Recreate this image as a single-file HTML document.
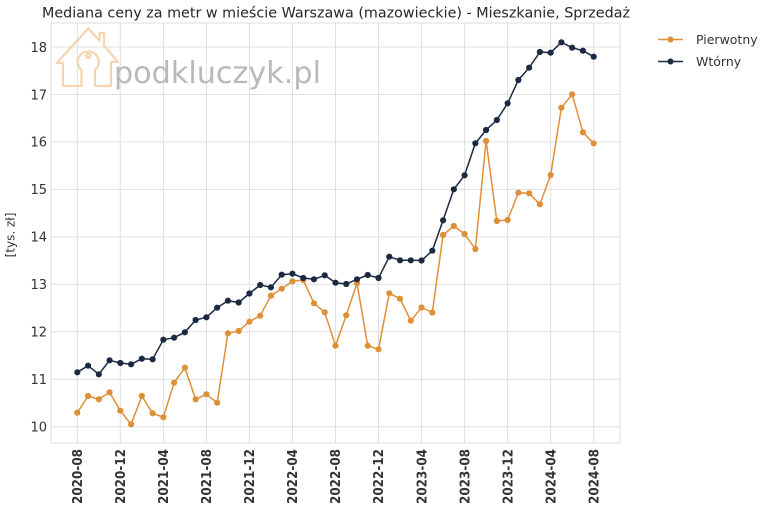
<!DOCTYPE html>
<html><head><meta charset="utf-8"><style>
html,body{margin:0;padding:0;background:#fff;}
svg{display:block;}
text{font-family:"DejaVu Sans","Liberation Sans",sans-serif;}
</style></head><body>
<svg width="768" height="511" viewBox="0 0 768 511" xmlns="http://www.w3.org/2000/svg">
<defs>
<marker id="mo" markerWidth="8" markerHeight="8" refX="4" refY="4" markerUnits="userSpaceOnUse"><circle cx="4" cy="4" r="3.1" fill="#de9036"/></marker>
<marker id="mn" markerWidth="8" markerHeight="8" refX="4" refY="4" markerUnits="userSpaceOnUse"><circle cx="4" cy="4" r="3.1" fill="#1b2a41"/></marker>
</defs>
<rect width="768" height="511" fill="#fff"/>
<!-- title -->
<text x="336" y="17.5" font-size="14" fill="#262626" text-anchor="middle" textLength="588" lengthAdjust="spacingAndGlyphs">Mediana ceny za metr w mieście Warszawa (mazowieckie) - Mieszkanie, Sprzedaż</text>
<!-- grid -->
<g stroke="#e0e0e0" stroke-width="1">
<line x1="51" x2="620" y1="426.7" y2="426.7"/>
<line x1="51" x2="620" y1="379.2" y2="379.2"/>
<line x1="51" x2="620" y1="331.8" y2="331.8"/>
<line x1="51" x2="620" y1="284.3" y2="284.3"/>
<line x1="51" x2="620" y1="236.9" y2="236.9"/>
<line x1="51" x2="620" y1="189.4" y2="189.4"/>
<line x1="51" x2="620" y1="141.9" y2="141.9"/>
<line x1="51" x2="620" y1="94.5" y2="94.5"/>
<line x1="51" x2="620" y1="47.0" y2="47.0"/>
<line y1="23" y2="443" x1="77.3" x2="77.3"/>
<line y1="23" y2="443" x1="120.3" x2="120.3"/>
<line y1="23" y2="443" x1="163.4" x2="163.4"/>
<line y1="23" y2="443" x1="206.4" x2="206.4"/>
<line y1="23" y2="443" x1="249.4" x2="249.4"/>
<line y1="23" y2="443" x1="292.5" x2="292.5"/>
<line y1="23" y2="443" x1="335.5" x2="335.5"/>
<line y1="23" y2="443" x1="378.5" x2="378.5"/>
<line y1="23" y2="443" x1="421.6" x2="421.6"/>
<line y1="23" y2="443" x1="464.6" x2="464.6"/>
<line y1="23" y2="443" x1="507.6" x2="507.6"/>
<line y1="23" y2="443" x1="550.7" x2="550.7"/>
<line y1="23" y2="443" x1="593.7" x2="593.7"/>
</g>
<rect x="51" y="23" width="569" height="420" fill="none" stroke="#dcdcdc" stroke-width="1"/>
<!-- watermark -->
<g fill="none" stroke="#f4d3ac" stroke-width="2.2" stroke-linejoin="round" stroke-linecap="round" opacity="0.95">
<path d="M56.7,63 L88.3,28.5 L99.5,40.5 L99.5,33 L104,33 L104,45.5 L118,62 L111,62 L111,86 L95,86 L95,70 A10.5,10.5 0 1 0 81.5,70 L81.5,86 L63,86 L63,63 Z"/>
<circle cx="88.3" cy="55.8" r="2.2"/>
</g>
<text x="114" y="83" font-size="30" fill="#b7babd" textLength="207" lengthAdjust="spacingAndGlyphs">podkluczyk.pl</text>
<!-- y tick labels -->
<g font-size="13" fill="#333" text-anchor="end">
<text x="47" y="431.5">10</text>
<text x="47" y="384">11</text>
<text x="47" y="336.6">12</text>
<text x="47" y="289.1">13</text>
<text x="47" y="241.7">14</text>
<text x="47" y="194.2">15</text>
<text x="47" y="146.7">16</text>
<text x="47" y="99.3">17</text>
<text x="47" y="51.8">18</text>
</g>
<text transform="translate(14.5,235) rotate(-90)" font-size="12" fill="#333" text-anchor="middle">[tys. zł]</text>
<!-- x tick labels -->
<g font-size="13" font-weight="bold" fill="#333" text-anchor="end">
<text transform="translate(82,449) rotate(-90)" textLength="55" lengthAdjust="spacingAndGlyphs">2020-08</text>
<text transform="translate(125,449) rotate(-90)" textLength="55" lengthAdjust="spacingAndGlyphs">2020-12</text>
<text transform="translate(168.1,449) rotate(-90)" textLength="55" lengthAdjust="spacingAndGlyphs">2021-04</text>
<text transform="translate(211.1,449) rotate(-90)" textLength="55" lengthAdjust="spacingAndGlyphs">2021-08</text>
<text transform="translate(254.1,449) rotate(-90)" textLength="55" lengthAdjust="spacingAndGlyphs">2021-12</text>
<text transform="translate(297.2,449) rotate(-90)" textLength="55" lengthAdjust="spacingAndGlyphs">2022-04</text>
<text transform="translate(340.2,449) rotate(-90)" textLength="55" lengthAdjust="spacingAndGlyphs">2022-08</text>
<text transform="translate(383.2,449) rotate(-90)" textLength="55" lengthAdjust="spacingAndGlyphs">2022-12</text>
<text transform="translate(426.3,449) rotate(-90)" textLength="55" lengthAdjust="spacingAndGlyphs">2023-04</text>
<text transform="translate(469.3,449) rotate(-90)" textLength="55" lengthAdjust="spacingAndGlyphs">2023-08</text>
<text transform="translate(512.3,449) rotate(-90)" textLength="55" lengthAdjust="spacingAndGlyphs">2023-12</text>
<text transform="translate(555.4,449) rotate(-90)" textLength="55" lengthAdjust="spacingAndGlyphs">2024-04</text>
<text transform="translate(598.4,449) rotate(-90)" textLength="55" lengthAdjust="spacingAndGlyphs">2024-08</text>
</g>
<!-- Pierwotny -->
<polyline fill="none" stroke="#de9036" stroke-width="1.5" stroke-linejoin="round" marker-start="url(#mo)" marker-mid="url(#mo)" marker-end="url(#mo)" points="77.3,412.7 88.06,396 98.82,399.3 109.57,392.3 120.33,410.7 131.09,424.3 141.85,396 152.61,413.3 163.36,417.3 174.12,382.7 184.88,367.7 195.64,399.3 206.4,394.3 217.15,402.7 227.91,333.3 238.67,331 249.43,321.7 260.19,315.7 270.94,295.7 281.7,288.7 292.46,281.3 303.22,280 313.98,303.3 324.73,312.3 335.49,345.7 346.25,315.3 357.01,283.3 367.77,345.7 378.52,349.3 389.28,293.3 400.04,298.7 410.8,320.7 421.56,307.5 432.31,312.5 443.07,235 453.83,226 464.59,234 475.35,249 486.1,141 496.86,221 507.62,220 518.38,192.7 529.14,193.3 539.89,204.3 550.65,175 561.41,107.7 572.17,94.3 582.93,132.3 593.68,143.3"/>
<!-- Wtorny -->
<polyline fill="none" stroke="#1b2a41" stroke-width="1.5" stroke-linejoin="round" marker-start="url(#mn)" marker-mid="url(#mn)" marker-end="url(#mn)" points="77.3,372.3 88.06,365.7 98.82,374.3 109.57,360.3 120.33,363 131.09,364.3 141.85,358.7 152.61,359.3 163.36,339.7 174.12,337.7 184.88,332.3 195.64,320 206.4,317.3 217.15,307.7 227.91,300.7 238.67,302.5 249.43,293.5 260.19,285 270.94,287.3 281.7,274.7 292.46,273.7 303.22,278 313.98,279.3 324.73,275.3 335.49,282.7 346.25,284 357.01,279.3 367.77,275 378.52,278 389.28,256.7 400.04,260.3 410.8,260.3 421.56,260.5 432.31,250.7 443.07,220.3 453.83,189.3 464.59,175.3 475.35,143.3 486.1,130 496.86,120 507.62,103.3 518.38,80 529.14,67.7 539.89,52 550.65,52.7 561.41,42.3 572.17,47.7 582.93,50.7 593.68,56.7"/>
<!-- legend -->
<line x1="658" x2="683" y1="39.5" y2="39.5" stroke="#de9036" stroke-width="1.5"/>
<circle cx="670.5" cy="39.5" r="3" fill="#de9036"/>
<text x="696" y="44" font-size="12.5" fill="#333">Pierwotny</text>
<line x1="658" x2="683" y1="61.5" y2="61.5" stroke="#1b2a41" stroke-width="1.5"/>
<circle cx="670.5" cy="61.5" r="3" fill="#1b2a41"/>
<text x="696" y="66" font-size="12.5" fill="#333">Wtórny</text>
</svg>
</body></html>
